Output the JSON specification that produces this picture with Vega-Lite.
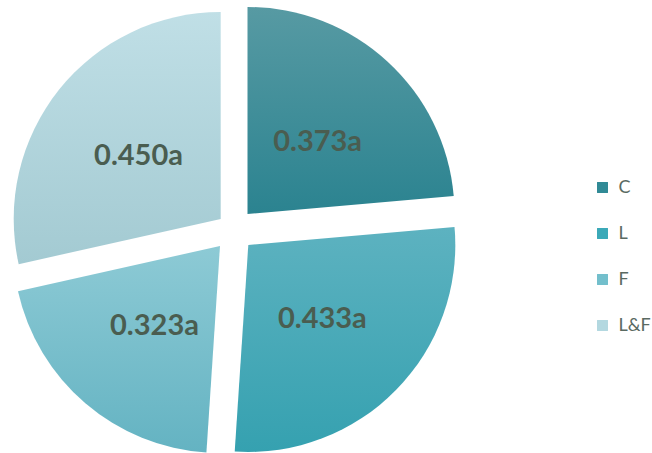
{
  "$schema": "https://vega.github.io/schema/vega-lite/v6.json",
  "width": 414,
  "height": 414,
  "autosize": "none",
  "padding": {"left": 27.5, "top": 23.5, "right": 210.5, "bottom": 15.5},
  "background": "white",
  "config": {"view": {"stroke": null}},
  "data": {"values": [
    {"category": "C", "value": 0.373, "label": "0.373a", "order": 1},
    {"category": "L", "value": 0.433, "label": "0.433a", "order": 2},
    {"category": "F", "value": 0.323, "label": "0.323a", "order": 3},
    {"category": "L&F", "value": 0.450, "label": "0.450a", "order": 4}
  ]},
  "resolve": {"scale": {"theta": "independent"}},
  "layer": [
    {
      "transform": [
        {"stack": "value", "groupby": [], "offset": "normalize", "sort": [{"field": "order", "order": "ascending"}], "as": ["v0", "v1"]},
        {"filter": "datum.category === 'C'"}
      ],
      "mark": {"type": "arc", "xOffset": 13, "yOffset": -16.5,
        "fill": {"gradient": "linear", "x1": 0, "y1": 0, "x2": 0, "y2": 1,
          "stops": [{"offset": 0, "color": "#579AA3"}, {"offset": 1, "color": "#2B8390"}]}},
      "encoding": {
        "theta": {"field": "v0", "type": "quantitative", "scale": {"domain": [0, 1]}},
        "theta2": {"field": "v1"}
      }
    },
    {
      "transform": [
        {"stack": "value", "groupby": [], "offset": "normalize", "sort": [{"field": "order", "order": "ascending"}], "as": ["v0", "v1"]},
        {"filter": "datum.category === 'L'"}
      ],
      "mark": {"type": "arc", "xOffset": 13.8, "yOffset": 14.5,
        "fill": {"gradient": "linear", "x1": 0, "y1": 0, "x2": 0, "y2": 1,
          "stops": [{"offset": 0, "color": "#5DB2C0"}, {"offset": 1, "color": "#35A1B0"}]}},
      "encoding": {
        "theta": {"field": "v0", "type": "quantitative", "scale": {"domain": [0, 1]}},
        "theta2": {"field": "v1"}
      }
    },
    {
      "transform": [
        {"stack": "value", "groupby": [], "offset": "normalize", "sort": [{"field": "order", "order": "ascending"}], "as": ["v0", "v1"]},
        {"filter": "datum.category === 'F'"}
      ],
      "mark": {"type": "arc", "xOffset": -14.5, "yOffset": 15.5,
        "fill": {"gradient": "linear", "x1": 0, "y1": 0, "x2": 0, "y2": 1,
          "stops": [{"offset": 0, "color": "#8DCAD5"}, {"offset": 1, "color": "#64B3C2"}]}},
      "encoding": {
        "theta": {"field": "v0", "type": "quantitative", "scale": {"domain": [0, 1]}},
        "theta2": {"field": "v1"}
      }
    },
    {
      "transform": [
        {"stack": "value", "groupby": [], "offset": "normalize", "sort": [{"field": "order", "order": "ascending"}], "as": ["v0", "v1"]},
        {"filter": "datum.category === 'L&F'"}
      ],
      "mark": {"type": "arc", "xOffset": -13.8, "yOffset": -11.5,
        "fill": {"gradient": "linear", "x1": 0, "y1": 0, "x2": 0, "y2": 1,
          "stops": [{"offset": 0, "color": "#C0DFE6"}, {"offset": 1, "color": "#A3CAD2"}]}},
      "encoding": {
        "theta": {"field": "v0", "type": "quantitative", "scale": {"domain": [0, 1]}},
        "theta2": {"field": "v1"}
      }
    },
    {
      "mark": {"type": "text", "radius": 123, "font": "Lato", "fontWeight": "bold", "fontSize": 29, "fill": "#4A5D50", "align": "center", "baseline": "middle", "dy": 2},
      "encoding": {
        "theta": {"field": "value", "type": "quantitative", "stack": true},
        "order": {"field": "order", "type": "quantitative"},
        "text": {"field": "label", "type": "nominal"}
      }
    },
    {
      "mark": {"type": "square", "opacity": 0, "size": 1},
      "encoding": {
        "color": {
          "field": "category", "type": "nominal",
          "scale": {"domain": ["C", "L", "F", "L&F"], "range": ["#318A96", "#3BA9B8", "#73BFCC", "#B3D8E0"]},
          "legend": {
            "title": null, "orient": "none", "legendX": 566, "legendY": 155,
            "symbolType": "square", "symbolSize": 120, "symbolOpacity": 1, "symbolStrokeWidth": 0,
            "labelFont": "Lato", "labelFontSize": 18, "labelColor": "#5A6A62", "labelOffset": 7,
            "labelLimit": 300, "rowPadding": 28
          }
        }
      }
    }
  ]
}
